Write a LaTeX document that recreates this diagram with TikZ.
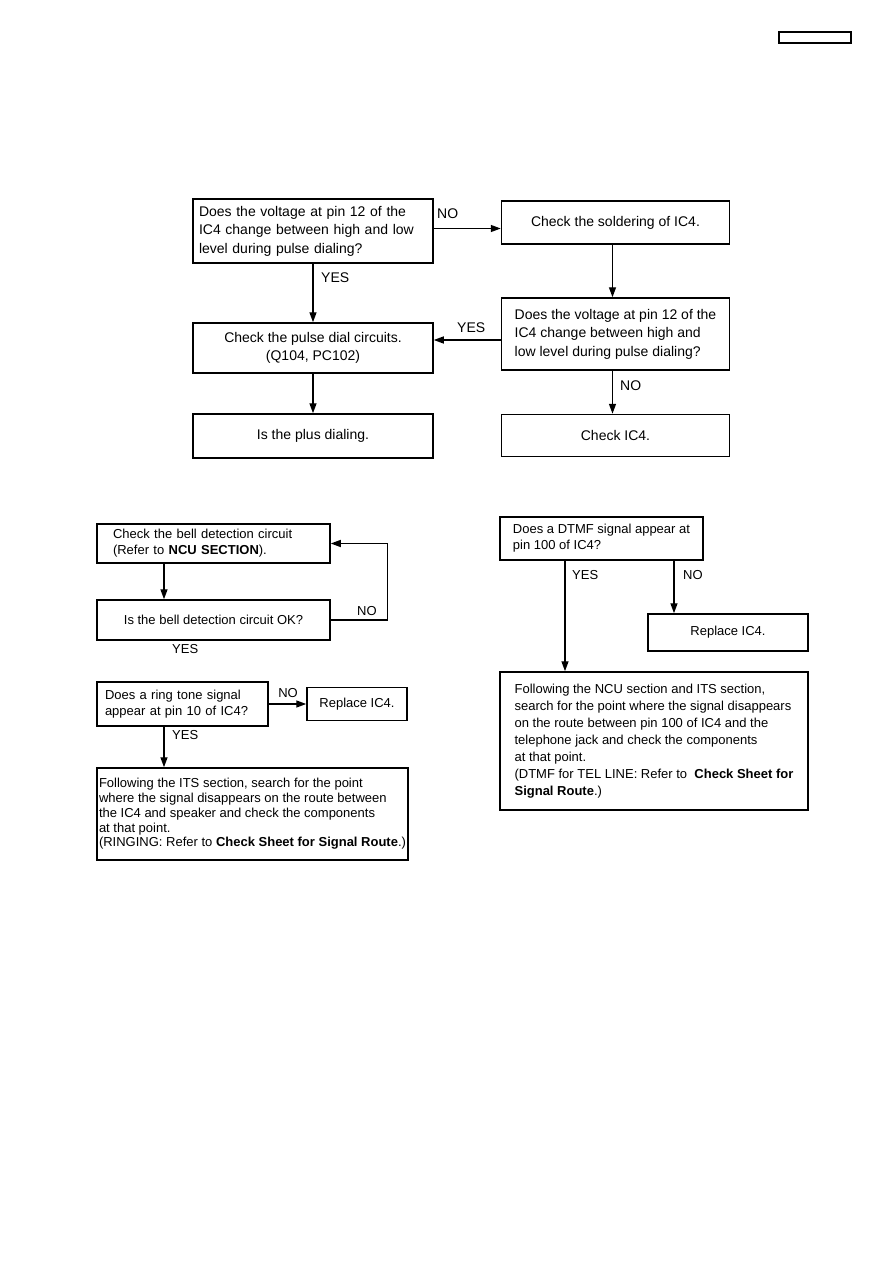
\documentclass[tikz,border=0pt]{standalone}
\usepackage{fontspec}
\setmainfont{Liberation Sans}
\usetikzlibrary{arrows.meta, positioning, calc}

\tikzset{
  flow/.style={draw, line width=1.5pt, rectangle, inner ysep=0pt},
  bigtxt/.style={font=\fontsize{14}{18.5}\selectfont},
  smalltxt/.style={font=\fontsize{13}{16}\selectfont},
  arr/.style={line width=1.4pt, -{Triangle[length=10pt, width=7pt]}},
  lbl/.style={anchor=west, inner sep=0pt},
}

\begin{document}
\begin{tikzpicture}[x=1pt, y=-1pt]
  \useasboundingbox (0,0) rectangle (893,1263);
  \draw[line width=1.5pt] (779,32) rectangle (851,43);

  % columns for the connectors
  \coordinate (colR) at (612.5,0);
  \coordinate (colL) at (164,0);
  \coordinate (colY) at (565,0);
  \coordinate (colN) at (674,0);

  % pulse dialing
  \node[flow, bigtxt, text width=228pt, inner xsep=6pt, minimum height=64pt, align=left] (volt1) at (313,231)
    {Does the voltage at pin 12 of the\\IC4 change between high and low\\level during pulse dialing?};
  \node[flow, bigtxt, minimum width=228pt, minimum height=43pt] (solder) at (615.5,222.5) {Check the soldering of IC4.};
  \node[flow, bigtxt, minimum width=228pt, minimum height=72pt, align=left] (volt2) at (615.5,334)
    {Does the voltage at pin 12 of the\\IC4 change between high and\\low level during pulse dialing?};
  \node[flow, bigtxt, minimum width=240pt, minimum height=50pt, align=center] (pulse) at (313,348)
    {Check the pulse dial circuits.\\(Q104, PC102)};
  \node[flow, bigtxt, minimum width=240pt, minimum height=44pt] (plus) at (313,436) {Is the plus dialing.};
  \node[flow, bigtxt, minimum width=228pt, minimum height=42pt] (ic4chk) at (615.5,435.5) {Check IC4.};

  \draw[arr] ([yshift=2.5pt]volt1.east) -- ([yshift=2.5pt]volt1.east -| solder.west);
  \node[lbl, bigtxt] at (437,214) {NO};
  \draw[arr] (volt1) -- (pulse);
  \node[lbl, bigtxt] at (321,278) {YES};
  \draw[arr] (solder.south -| colR) -- (volt2.north -| colR);
  \draw[arr] ([yshift=-6pt]volt2.west) -- ([yshift=-6pt]volt2.west -| pulse.east);
  \node[lbl, bigtxt] at (457,328) {YES};
  \draw[arr] (volt2.south -| colR) -- (ic4chk.north -| colR);
  \node[lbl, bigtxt] at (620,386) {NO};
  \draw[arr] (pulse) -- (plus);

  % ringing
  \node[flow, smalltxt, text width=201pt, inner xsep=16pt, minimum height=39pt, align=left] (bell) at (213.5,543.5)
    {Check the bell detection circuit\\(Refer to \textbf{NCU SECTION}).};
  \node[flow, smalltxt, minimum width=233pt, minimum height=40pt] (bellok) at (213.5,620) {Is the bell detection circuit OK?};
  \draw[arr] (bell.south -| colL) -- (bellok.north -| colL);
  \draw[arr] (bellok.east) -- ++(57,0) |- (bell.east);
  \node[lbl, smalltxt] at (357,611) {NO};
  \node[lbl, smalltxt] at (172,649) {YES};
  \node[flow, smalltxt, text width=155pt, inner xsep=8pt, minimum height=44pt, align=left] (ring) at (182.5,704)
    {Does a ring tone signal\\appear at pin 10 of IC4?};
  \node[flow, smalltxt, minimum width=100pt, minimum height=33pt] (repl1) at (357,704) {Replace IC4.};
  \draw[arr] (ring) -- (repl1);
  \node[smalltxt, inner sep=0pt] at (288,693) {NO};
  \node[flow, font=\fontsize{13}{14.8}\selectfont, inner xsep=2pt, minimum width=311pt, minimum height=92pt, align=left] (its) at (252.5,814)
    {Following the ITS section, search for the point\\where the signal disappears on the route between\\the IC4 and speaker and check the components\\at that point.\\(RINGING: Refer to \textbf{Check Sheet for Signal Route}.)};
  \draw[arr] (ring.south -| colL) -- (its.north -| colL);
  \node[lbl, smalltxt] at (172,735) {YES};

  % DTMF
  \node[flow, smalltxt, minimum width=203pt, minimum height=43pt, align=left] (dtmf) at (601.5,538.5)
    {Does a DTMF signal appear at\\pin 100 of IC4?};
  \node[flow, smalltxt, minimum width=160pt, minimum height=37pt] (repl2) at (728,632.5) {Replace IC4.};
  \node[flow, font=\fontsize{13}{17}\selectfont, minimum width=308pt, minimum height=138pt, align=left] (route) at (654,741)
    {Following the NCU section and ITS section,\\search for the point where the signal disappears\\on the route between pin 100 of IC4 and the\\telephone jack and check the components\\at that point.\\(DTMF for TEL LINE: Refer to\ \ \textbf{Check Sheet for}\\\textbf{Signal Route}.)};
  \draw[arr] (dtmf.south -| colY) -- (route.north -| colY);
  \node[lbl, smalltxt] at (572,575) {YES};
  \draw[arr] (dtmf.south -| colN) -- (repl2.north -| colN);
  \node[lbl, smalltxt] at (683,575) {NO};
\end{tikzpicture}
\end{document}
